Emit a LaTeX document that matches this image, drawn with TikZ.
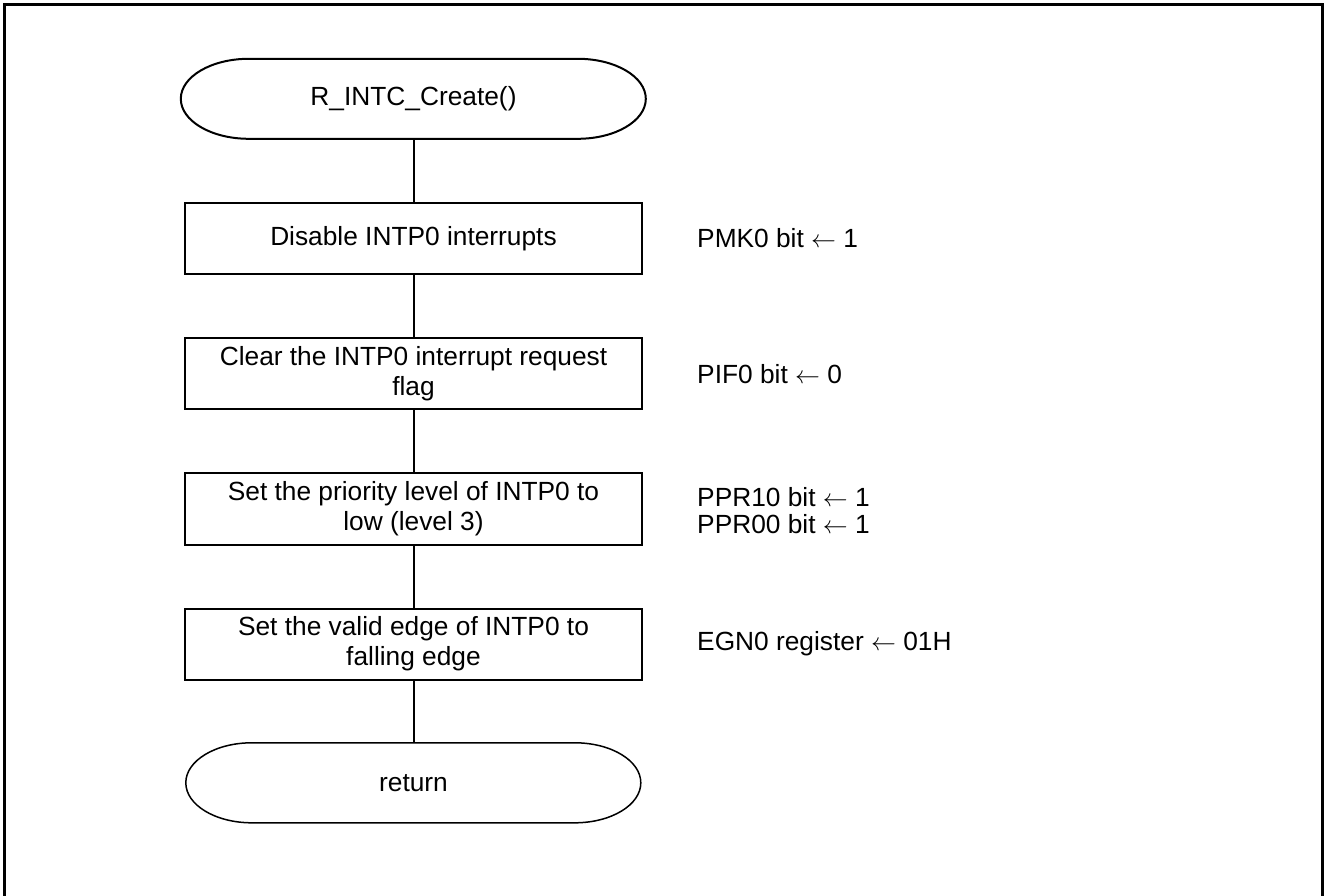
\documentclass[tikz,border=0pt]{standalone}
\usepackage{fontspec}
\setmainfont{Liberation Sans}
\begin{document}
\begin{tikzpicture}[x=1pt,y=1pt,
  every node/.style={font=\fontsize{26.3}{30}\selectfont, inner sep=0pt},
  procbox/.style={draw, line width=2pt, minimum width=457pt, minimum height=71pt, align=center},
  termnode/.style={minimum width=#1, minimum height=80pt},
  termline/.style={line width=#1},
  conn/.style={line width=2pt},
  reglabel/.style={anchor=west, align=left}
]
\useasboundingbox (0,0) rectangle (1324,895);
\draw[line width=3pt] (4.5,-20) -- (4.5,890) -- (1322,890) -- (1322,-20);

% start terminal
\node[termnode=465pt] (start) at (413.5,796) {R\_INTC\_Create()};
\draw[termline=2pt] ([xshift=68pt]start.north west) -- ++(329pt,0)
  arc[start angle=90, end angle=-90, x radius=68pt, y radius=40pt]
  -- ++(-329pt,0)
  arc[start angle=270, end angle=90, x radius=68pt, y radius=40pt] -- cycle;

\node[procbox] (b1) at (413.5,656.5) {Disable INTP0 interrupts};
\node[procbox] (b2) at (413.5,521) {Clear the INTP0 interrupt request\\flag};
\node[procbox] (b3) at (413.5,386) {Set the priority level of INTP0 to\\low (level 3)};
\node[procbox] (b4) at (413.5,251) {Set the valid edge of INTP0 to\\falling edge};

% return terminal
\node[termnode=455pt] (ret) at (413.5,112) {return};
\draw[termline=1.5pt] ([xshift=66pt]ret.north west) -- ++(323pt,0)
  arc[start angle=90, end angle=-90, x radius=66pt, y radius=40pt]
  -- ++(-323pt,0)
  arc[start angle=270, end angle=90, x radius=66pt, y radius=40pt] -- cycle;

\draw[conn] (start.south) -- (b1.north);
\draw[conn] (b1.south) -- (b2.north);
\draw[conn] (b2.south) -- (b3.north);
\draw[conn] (b3.south) -- (b4.north);
\draw[conn] (b4.south) -- (ret.north);

\node[reglabel] (r1) at (697,656.5) {PMK0 bit $\leftarrow$ 1};
\node[reglabel] (r2) at (697,521) {PIF0 bit $\leftarrow$ 0};
\node[reglabel, font=\fontsize{26.3}{27}\selectfont] (r3) at (697,384) {PPR10 bit $\leftarrow$ 1\\PPR00 bit $\leftarrow$ 1};
\node[reglabel] (r4) at (697,251) {EGN0 register $\leftarrow$ 01H};
\end{tikzpicture}
\end{document}
